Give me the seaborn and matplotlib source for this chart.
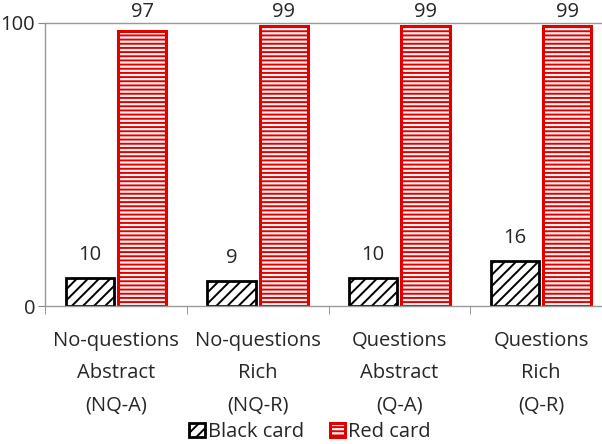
import numpy as np
import pandas as pd
import matplotlib
matplotlib.use("Agg")
import matplotlib.pyplot as plt
import seaborn as sns

# données
conditions = ["No-questions\nAbstract\n(NQ-A)", "No-questions\nRich\n(NQ-R)",
              "Questions\nAbstract\n(Q-A)", "Questions\nRich\n(Q-R)"]
black_card = [10, 9, 10, 16]
red_card = [97, 99, 99, 99]
cards = ["Black card", "Red card"]

df = pd.DataFrame({
    "condition": conditions * 2,
    "value": black_card + red_card,
    "card": [cards[0]] * len(conditions) + [cards[1]] * len(conditions),
})

sns.set_style("white")
plt.rcParams["font.family"] = ["Open Sans", "DejaVu Sans"]
plt.rcParams["hatch.linewidth"] = 1.4
FS = 14.5

fig = plt.figure(figsize=(6.02, 4.44), dpi=100)
ax = fig.add_axes([45 / 602, 138 / 444, 567 / 602, 283 / 444])

sns.barplot(data=df, x="condition", y="value", hue="card", order=conditions,
            hue_order=cards, palette=["white", "white"], width=0.74, gap=0.08,
            legend=False, ax=ax)

# style des barres : hachures noires / lignes rouges
styles = [dict(hatch="///", edgecolor="black", facecolor="white", lw=2.0),
          dict(hatch="----", edgecolor="#e00000", facecolor="#fff4f4", lw=2.2)]
for cont, st in zip(ax.containers, styles):
    for p in cont:
        p.set_hatch(st["hatch"])
        p.set_edgecolor(st["edgecolor"])
        p.set_facecolor(st["facecolor"])
        p.set_linewidth(st["lw"])

# étiquettes de valeurs (plafonnées en haut du graphique comme dans Excel)
for cont in ax.containers:
    for p, v in zip(cont, cont.datavalues):
        y = min(v + 4.5, 100.3)
        ax.text(p.get_x() + p.get_width() / 2, y, f"{v:g}", ha="center", va="bottom",
                fontsize=FS)

ax.set_xlim(-0.5, 3.5)
ax.set_ylim(0, 100)
ax.set_yticks([0, 100])
ax.set_xlabel("")
ax.set_ylabel("")

ax.set_xticks(np.arange(-0.5, 4, 1), minor=True)
ax.tick_params(axis="x", which="major", length=0, labelsize=FS, pad=18)
ax.tick_params(axis="x", which="minor", length=6, color="#888888", direction="out", bottom=True)
ax.tick_params(axis="y", length=5, color="#888888", labelsize=FS, left=True, direction="out", pad=2)
for lbl in ax.get_xticklabels():
    lbl.set_linespacing(1.8)

for side in ["left", "bottom", "top"]:
    ax.spines[side].set_color("#999999")
    ax.spines[side].set_linewidth(1.0)
ax.spines["right"].set_visible(False)

ax.legend(ax.containers, cards, loc="lower center", bbox_to_anchor=(0.515, 0.0),
          bbox_transform=fig.transFigure, ncol=2, frameon=False, fontsize=FS,
          borderpad=0.1, borderaxespad=0.0, handlelength=0.75, handleheight=0.75,
          handletextpad=0.15, columnspacing=1.3)

fig.savefig("out.png", dpi=100)
